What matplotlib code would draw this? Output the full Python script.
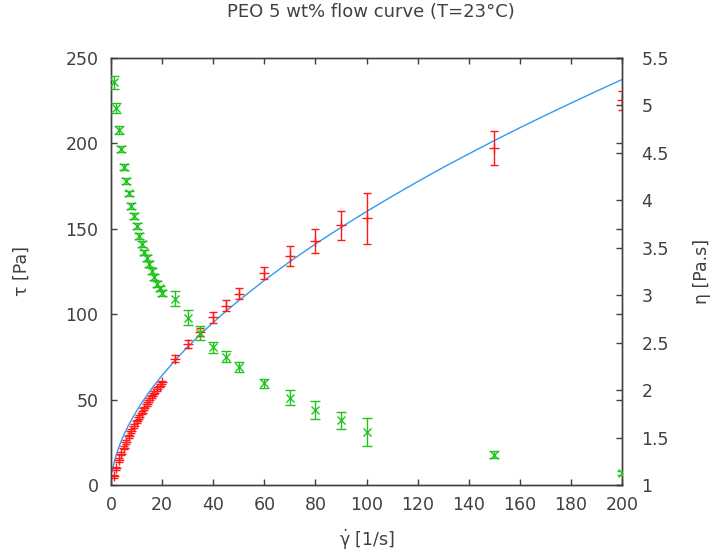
"""
PEO 5 wt% flow curve: shear stress and viscosity vs shear rate.
"""

import matplotlib
matplotlib.use("Agg")
import matplotlib.pyplot as plt

plt.rcParams["font.family"] = ["DejaVu Sans"]
plt.rcParams["mathtext.fontset"] = "dejavusans"

# shear rate [1/s]
shear_rate = [1, 2, 3, 4, 5, 6, 7, 8, 9, 10, 11, 12, 13, 14, 15, 16, 17, 18, 19, 20,
              25, 30, 35, 40, 45, 50, 60, 70, 80, 90, 100, 150, 200]

# shear stress tau [Pa] and its error
tau = [5.0, 9.7, 14.5, 18.3, 21.8, 25.2, 28.5, 31.5, 34.4, 37.2, 39.8, 42.4, 44.8,
       47.3, 49.6, 51.8, 54.0, 56.1, 58.1, 60.0,
       74, 82.5, 89.5, 98, 105, 112, 124, 134, 143, 152, 156, 197, 225]
tau_err = [1.0, 1.0, 1.0, 1.0, 1.0, 1.0, 1.0, 1.0, 1.0, 1.0, 1.0, 1.0, 1.0,
           1.0, 1.0, 1.0, 1.0, 1.0, 1.0, 1.0,
           2.0, 2.5, 2.5, 3.0, 3.0, 3.0, 3.5, 6.0, 7.0, 8.5, 15.0, 10.0, 5.5]

# viscosity eta [Pa.s] and its error
eta = [5.24, 4.97, 4.74, 4.54, 4.35, 4.20, 4.07, 3.94, 3.83, 3.73, 3.62, 3.54, 3.45,
       3.39, 3.33, 3.25, 3.19, 3.12, 3.07, 3.02,
       2.96, 2.76, 2.60, 2.45, 2.35, 2.24, 2.07, 1.92, 1.79, 1.68, 1.56, 1.32, 1.13]
eta_err = [0.07, 0.055, 0.04, 0.03, 0.03, 0.03, 0.03, 0.03, 0.03, 0.03, 0.03, 0.03, 0.03,
           0.03, 0.03, 0.03, 0.03, 0.03, 0.03, 0.03,
           0.08, 0.08, 0.07, 0.06, 0.06, 0.05, 0.05, 0.08, 0.09, 0.09, 0.15, 0.04, 0.02]

# fitted curve
fit_rate = [0.5, 1, 1.5, 2, 3, 4, 5, 6, 7, 8, 10, 12, 14, 16, 18, 20, 25, 30, 35, 40,
            45, 50, 60, 70, 80, 90, 100, 110, 120, 130, 140, 150, 160, 170, 180, 190, 200]
fit_tau = [7.9, 11.7, 14.7, 17.3, 21.8, 25.7, 29.2, 32.4, 35.3, 38.1, 43.3, 48.0, 52.4,
           56.5, 60.4, 64.1, 72.8, 80.8, 88.2, 95.1, 101.7, 107.9, 119.7, 130.7, 141.0,
           150.7, 160.0, 168.9, 177.5, 185.8, 193.7, 201.5, 209.0, 216.3, 223.4, 230.4,
           237.2]

RED = "#ff1a1a"
GREEN = "#1fc41f"
BLUE = "#3399f0"
AXIS = "#404040"
TEXT = "#404040"
FS = 12.5

fig = plt.figure(figsize=(7.13, 5.57), dpi=100)
ax = fig.add_axes([0.1557, 0.1293, 0.7167, 0.7671])
ax2 = ax.twinx()

ax.plot(fit_rate, fit_tau, color=BLUE, lw=1.0, zorder=3)
ax.errorbar(shear_rate, tau, yerr=tau_err, fmt="+", color=RED, ms=7, mew=1.0,
            elinewidth=1.0, capsize=3, capthick=1.0, zorder=4)
ax2.errorbar(shear_rate, eta, yerr=eta_err, fmt="x", color=GREEN, ms=6, mew=1.0,
             elinewidth=1.0, capsize=3.5, capthick=1.0, zorder=4)

ax.set_xlim(0, 200)
ax.set_ylim(0, 250)
ax2.set_ylim(1, 5.5)
ax.set_xticks(range(0, 201, 20))
ax.set_yticks(range(0, 251, 50))
ax2.set_yticks([1, 1.5, 2, 2.5, 3, 3.5, 4, 4.5, 5, 5.5])
ax2.set_yticklabels(["1", "1.5", "2", "2.5", "3", "3.5", "4", "4.5", "5", "5.5"])

for a in (ax, ax2):
    for s in a.spines.values():
        s.set_color(AXIS)
        s.set_linewidth(1.0)
ax.tick_params(direction="in", length=4, width=1, colors=AXIS, labelcolor=TEXT,
               labelsize=FS, top=True, right=True)
ax.tick_params(axis="x", pad=8)
ax.tick_params(axis="y", pad=9)
ax2.tick_params(direction="in", length=4, width=1, colors=AXIS, labelcolor=TEXT,
                labelsize=FS, pad=14)

ax.set_xlabel(r"$\dot{\mathrm{\gamma}}$ [1/s]", fontsize=FS, color=TEXT, labelpad=10)
ax.set_ylabel("τ [Pa]", fontsize=FS, color=TEXT, labelpad=25)
ax2.set_ylabel("η [Pa.s]", fontsize=FS, color=TEXT, labelpad=17)
fig.text(0.52, 0.978, "PEO 5 wt% flow curve (T=23°C)", ha="center", va="center",
         fontsize=13, color=TEXT)

fig.savefig("out.png", dpi=100)
